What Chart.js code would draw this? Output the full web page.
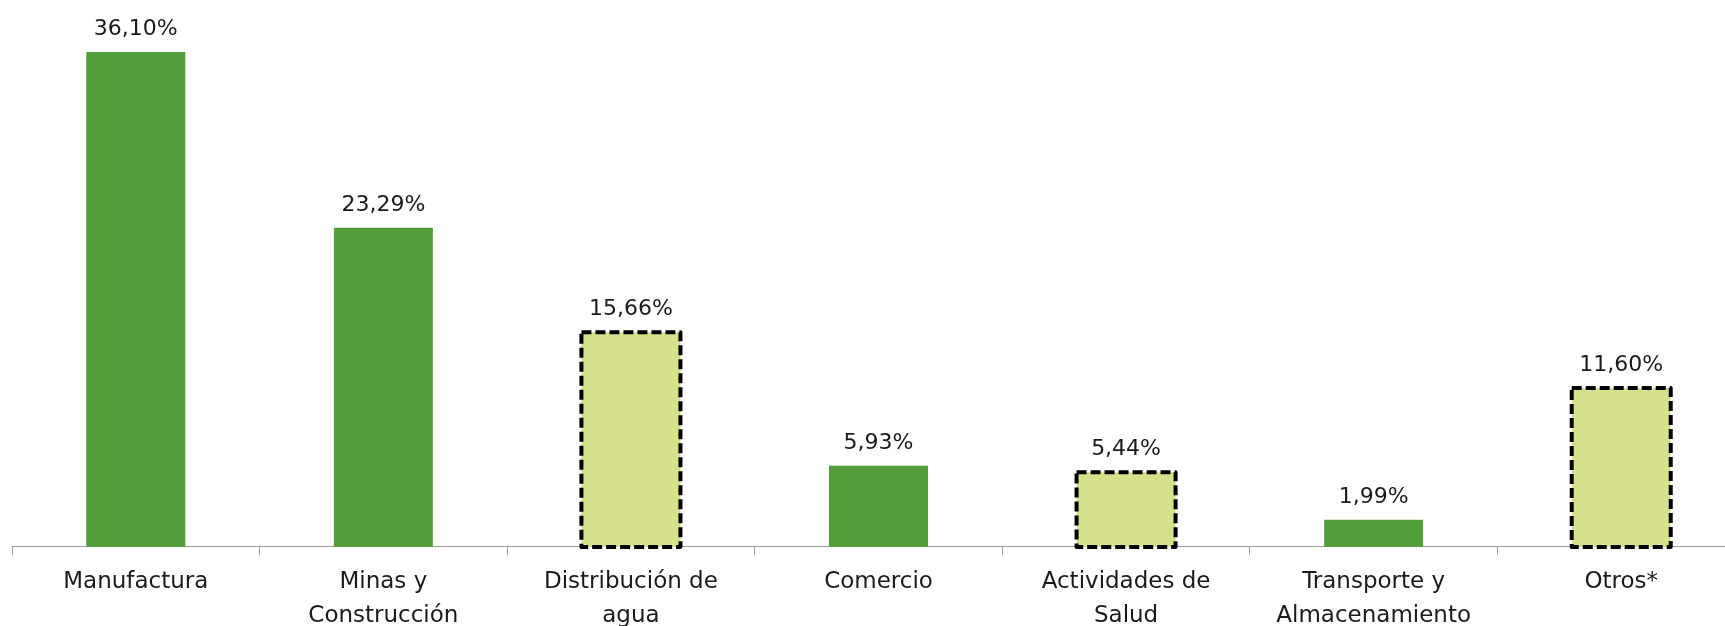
<!DOCTYPE html>
<html>
<head>
<meta charset="utf-8">
<script src="https://cdn.jsdelivr.net/npm/chart.js@4.4.1/dist/chart.umd.min.js"></script>
<style>
    html, body { margin: 0; padding: 0; background: #fff; overflow: hidden; }
    #wrap { position: relative; width: 1745px; height: 643px; }
</style>
</head>
<body>
<div id="wrap"><canvas id="sectorChart"></canvas></div>
<script>
// Datos del grafico
const categories = [
    ['Manufactura'],
    ['Minas y', 'Construcción'],
    ['Distribución de', 'agua'],
    ['Comercio'],
    ['Actividades de', 'Salud'],
    ['Transporte y', 'Almacenamiento'],
    ['Otros*']
];
const values = [36.10, 23.29, 15.66, 5.93, 5.44, 1.99, 11.60];
const valueLabels = ['36,10%', '23,29%', '15,66%', '5,93%', '5,44%', '1,99%', '11,60%'];
const dashed = [false, false, true, false, true, false, true];

const GREEN = '#539E3A';
const LIGHT = '#D7E08A';
const FONT = "'DejaVu Sans', sans-serif";

// etiquetas de valor + borde punteado
const barExtras = {
    id: 'barExtras',
    afterDatasetsDraw(chart) {
        const ctx = chart.ctx;
        const meta = chart.getDatasetMeta(0);
        ctx.save();
        meta.data.forEach((bar, i) => {
            const p = bar.getProps(['x', 'y', 'base', 'width'], true);
            if (dashed[i]) {
                ctx.setLineDash([10, 4]);
                ctx.lineWidth = 4;
                ctx.strokeStyle = '#000';
                ctx.lineJoin = 'round';
                ctx.strokeRect(p.x - p.width / 2, p.y, p.width, p.base - p.y);
                ctx.setLineDash([]);
            }
            ctx.fillStyle = '#1a1a1a';
            ctx.font = '22px ' + FONT;
            ctx.textAlign = 'center';
            ctx.textBaseline = 'alphabetic';
            ctx.fillText(valueLabels[i], p.x, p.y - 17);
        });
        ctx.restore();
    }
};

new Chart(document.getElementById('sectorChart'), {
    type: 'bar',
    data: {
        labels: categories,
        datasets: [{
            data: values,
            backgroundColor: dashed.map(d => d ? LIGHT : GREEN),
            borderWidth: 0,
            barPercentage: 0.4,
            categoryPercentage: 1.0
        }]
    },
    options: {
        responsive: true,
        maintainAspectRatio: false,
        animation: false,
        layout: { padding: { left: 12, right: 0, top: 0, bottom: 0 } },
        plugins: {
            legend: { display: false },
            tooltip: { enabled: false }
        },
        scales: {
            y: {
                display: false,
                min: 0,
                max: 39.9
            },
            x: {
                grid: {
                    display: true,
                    drawOnChartArea: false,
                    drawTicks: true,
                    tickLength: 8,
                    color: '#9a9a9a'
                },
                border: { display: true, color: '#9a9a9a', width: 1 },
                ticks: {
                    color: '#1a1a1a',
                    padding: 10,
                    maxRotation: 0,
                    autoSkip: false,
                    font: { family: FONT, size: 23, lineHeight: 1.48 }
                }
            }
        }
    },
    plugins: [barExtras]
});
</script>
</body>
</html>
